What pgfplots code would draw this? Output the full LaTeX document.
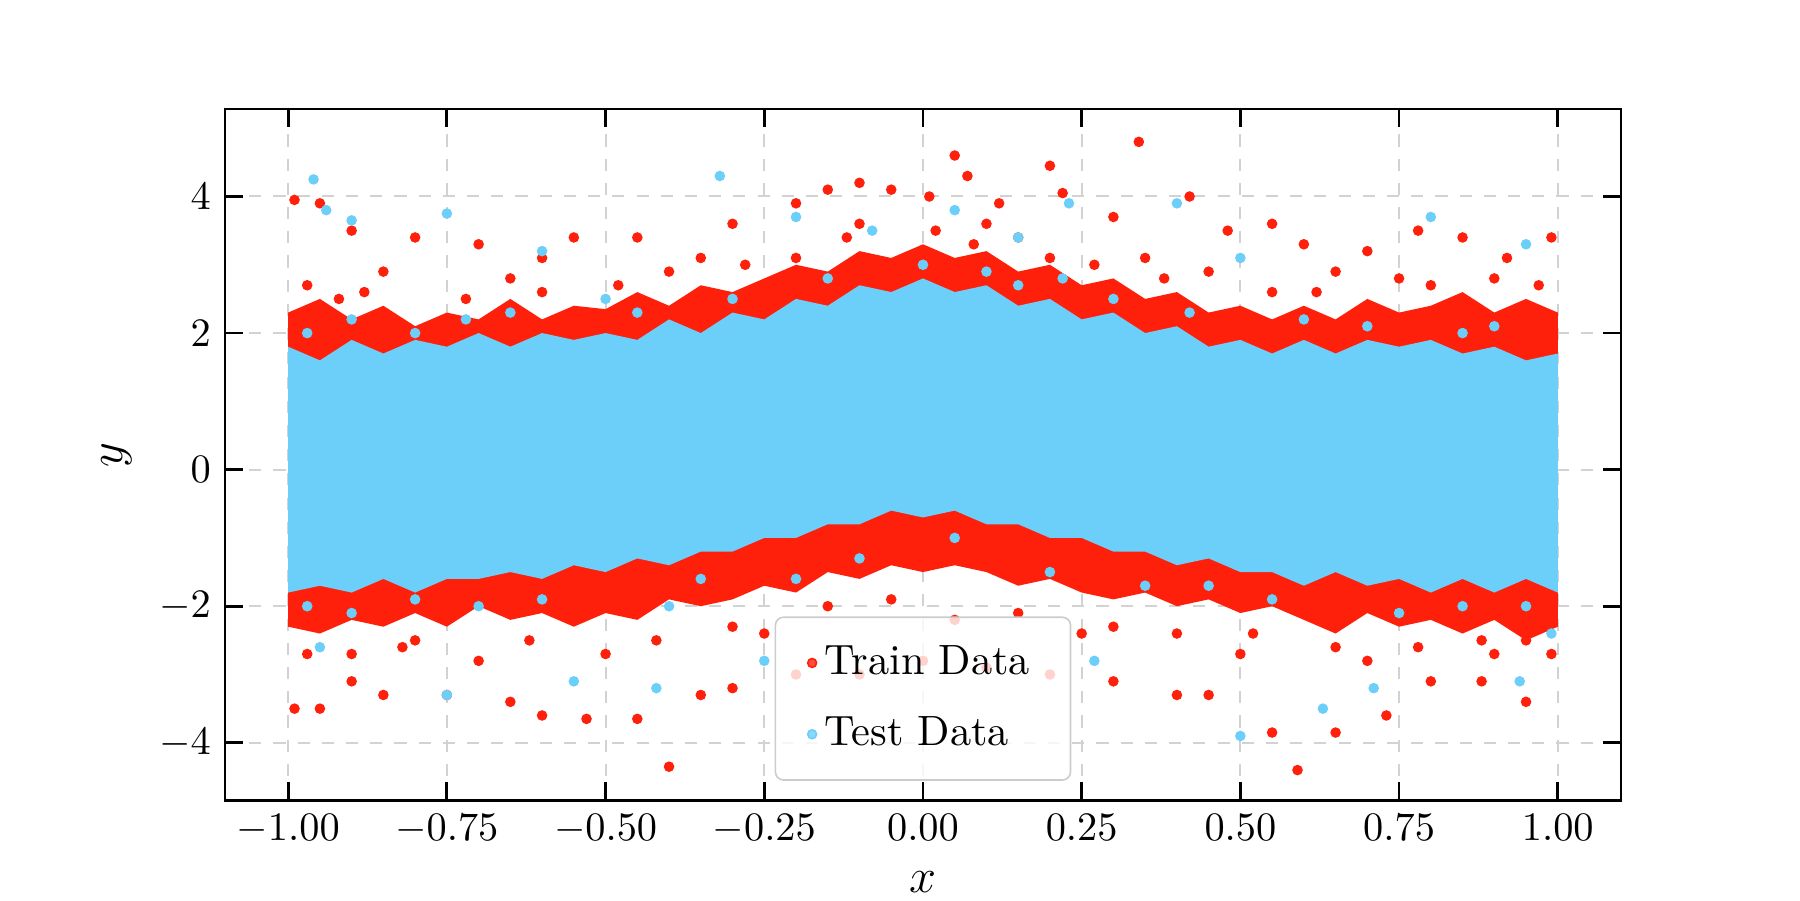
\documentclass[border=0pt]{standalone}
\usepackage{pgfplots}
\pgfplotsset{compat=1.18}
\definecolor{trainred}{RGB}{255,32,12}
\definecolor{testblue}{RGB}{108,207,250}
\begin{document}
\begin{tikzpicture}
\begin{axis}[
  at={(0,0)}, anchor=south west, scale only axis,
  width=12.16cm, height=6.02cm,
  xmin=-1.0995, xmax=1.0995, ymin=-4.84, ymax=5.28,
  xtick={-1,-0.75,...,1.01}, ytick={-4,-2,0,2,4},
  xticklabel style={/pgf/number format/.cd,fixed,fixed zerofill,precision=2},
  tick align=inside, xtick pos=both, ytick pos=both,
  major tick length=4.5pt,
  grid=major, grid style={dashed, gray!35, line width=0.5pt},
  axis line style={line width=0.7pt},
  tick style={line width=0.7pt, black},
  ticklabel style={font=\fontsize{9.6}{11}\selectfont},
  xlabel={$x$}, ylabel={$y$},
  label style={font=\fontsize{12}{14}\selectfont},
  xlabel style={yshift=0pt},
  legend style={at={(0.5,0.028)}, anchor=south, draw=gray!40, fill=white, fill opacity=0.8, text opacity=1, rounded corners=2pt, font=\fontsize{10.5}{12}\selectfont, row sep=5pt, inner xsep=8pt, inner ysep=5pt},
  legend cell align=left,
]
\addplot[fill=trainred, draw=none, forget plot] coordinates {
(-1,2.3)(-0.95,2.5)(-0.9,2.2)(-0.85,2.4)(-0.8,2.1)(-0.75,2.3)(-0.7,2.2)(-0.65,2.5)(-0.6,2.2)(-0.55,2.4)(-0.5,2.35)(-0.45,2.6)(-0.4,2.4)(-0.35,2.7)(-0.3,2.6)(-0.25,2.8)(-0.2,3.0)(-0.15,2.9)(-0.1,3.2)(-0.05,3.1)(0,3.3)(0.05,3.1)(0.1,3.2)(0.15,2.9)(0.2,3.0)(0.25,2.7)(0.3,2.8)(0.35,2.5)(0.4,2.6)(0.45,2.3)(0.5,2.4)(0.55,2.2)(0.6,2.4)(0.65,2.2)(0.7,2.5)(0.75,2.3)(0.8,2.4)(0.85,2.6)(0.9,2.3)(0.95,2.5)(1,2.3)
(1,-2.3)(0.95,-2.5)(0.9,-2.2)(0.85,-2.4)(0.8,-2.2)(0.75,-2.3)(0.7,-2.1)(0.65,-2.4)(0.6,-2.2)(0.55,-2.0)(0.5,-2.1)(0.45,-1.9)(0.4,-2.0)(0.35,-1.8)(0.3,-1.9)(0.25,-1.8)(0.2,-1.6)(0.15,-1.7)(0.1,-1.5)(0.05,-1.4)(0,-1.5)(-0.05,-1.4)(-0.1,-1.6)(-0.15,-1.5)(-0.2,-1.8)(-0.25,-1.7)(-0.3,-1.9)(-0.35,-2.0)(-0.4,-1.9)(-0.45,-2.2)(-0.5,-2.1)(-0.55,-2.3)(-0.6,-2.1)(-0.65,-2.2)(-0.7,-2.0)(-0.75,-2.3)(-0.8,-2.1)(-0.85,-2.3)(-0.9,-2.2)(-0.95,-2.4)(-1,-2.3)} -- cycle;
\addplot[only marks, mark=*, mark size=1.1pt, color=trainred] coordinates {
(-0.99,3.95)(-0.95,3.9)(-0.9,3.5)(-0.8,3.4)(-0.7,3.3)(-0.6,3.1)(-0.55,3.4)(-0.45,3.4)(-0.3,3.6)(-0.2,3.9)(-0.15,4.1)(-0.1,4.2)(-0.05,4.1)(0.01,4.0)(0.05,4.6)(0.07,4.3)(0.12,3.9)(0.2,4.45)(0.22,4.05)(0.3,3.7)(0.34,4.8)(0.42,4.0)(0.48,3.5)(0.55,3.6)(0.6,3.3)(0.7,3.2)(0.78,3.5)(0.85,3.4)(0.92,3.1)(0.99,3.4)
(-0.99,-3.5)(-0.95,-3.5)(-0.9,-3.1)(-0.85,-3.3)(-0.75,-3.3)(-0.65,-3.4)(-0.6,-3.6)(-0.53,-3.65)(-0.45,-3.65)(-0.4,-4.35)(-0.35,-3.3)(-0.3,-3.2)(-0.2,-3.0)(-0.1,-3.0)(0.0,-2.8)(0.1,-2.9)(0.2,-3.0)(0.3,-3.1)(0.4,-3.3)(0.45,-3.3)(0.55,-3.85)(0.59,-4.4)(0.65,-3.85)(0.73,-3.6)(0.8,-3.1)(0.88,-3.1)(0.95,-3.4)(0.99,-2.7)
(-0.97,2.7)(-0.85,2.9)(-0.65,2.8)(-0.4,2.9)(-0.35,3.1)(-0.1,3.6)(0.1,3.6)(0.15,3.4)(0.35,3.1)(0.45,2.9)(0.65,2.9)(0.9,2.8)(-0.9,-2.7)(-0.7,-2.8)(-0.5,-2.7)(-0.25,-2.4)(0.05,-2.2)(0.25,-2.4)(0.5,-2.7)(0.7,-2.8)(0.9,-2.7)
(-0.92,2.5)(-0.6,2.6)(-0.2,3.1)(0.02,3.5)(0.2,3.1)(0.55,2.6)(0.8,2.7)(-0.8,-2.5)(-0.3,-2.3)(-0.05,-1.9)(0.15,-2.1)(0.4,-2.4)(0.65,-2.6)(0.95,-2.5)
(-0.88,2.6)(-0.72,2.5)(-0.48,2.7)(-0.28,3.0)(-0.12,3.4)(0.08,3.3)(0.27,3.0)(0.38,2.8)(0.62,2.6)(0.75,2.8)(0.97,2.7)(-0.97,-2.7)(-0.82,-2.6)(-0.62,-2.5)(-0.42,-2.5)(-0.15,-2.0)(0.3,-2.3)(0.52,-2.4)(0.78,-2.6)(0.88,-2.5)};
\addlegendentry{Train Data}
\addplot[fill=testblue, draw=none, forget plot] coordinates {
(-1,1.8)(-0.95,1.6)(-0.9,1.9)(-0.85,1.7)(-0.8,1.9)(-0.75,1.8)(-0.7,2.0)(-0.65,1.8)(-0.6,2.0)(-0.55,1.9)(-0.5,2.0)(-0.45,1.9)(-0.4,2.2)(-0.35,2.0)(-0.3,2.3)(-0.25,2.2)(-0.2,2.5)(-0.15,2.4)(-0.1,2.7)(-0.05,2.6)(0,2.8)(0.05,2.6)(0.1,2.7)(0.15,2.4)(0.2,2.5)(0.25,2.2)(0.3,2.3)(0.35,2.0)(0.4,2.1)(0.45,1.8)(0.5,1.9)(0.55,1.7)(0.6,1.9)(0.65,1.7)(0.7,1.9)(0.75,1.8)(0.8,1.9)(0.85,1.7)(0.9,1.8)(0.95,1.6)(1,1.7)
(1,-1.8)(0.95,-1.6)(0.9,-1.8)(0.85,-1.6)(0.8,-1.8)(0.75,-1.6)(0.7,-1.7)(0.65,-1.5)(0.6,-1.7)(0.55,-1.5)(0.5,-1.5)(0.45,-1.3)(0.4,-1.4)(0.35,-1.2)(0.3,-1.2)(0.25,-1.0)(0.2,-1.0)(0.15,-0.8)(0.1,-0.8)(0.05,-0.6)(0,-0.7)(-0.05,-0.6)(-0.1,-0.8)(-0.15,-0.8)(-0.2,-1.0)(-0.25,-1.0)(-0.3,-1.2)(-0.35,-1.2)(-0.4,-1.4)(-0.45,-1.3)(-0.5,-1.5)(-0.55,-1.4)(-0.6,-1.6)(-0.65,-1.5)(-0.7,-1.6)(-0.75,-1.6)(-0.8,-1.8)(-0.85,-1.6)(-0.9,-1.8)(-0.95,-1.7)(-1,-1.8)} -- cycle;
\addplot[only marks, mark=*, mark size=1.1pt, color=testblue] coordinates {
(-0.96,4.25)(-0.94,3.8)(-0.9,3.65)(-0.75,3.75)(-0.6,3.2)(-0.32,4.3)(-0.2,3.7)(-0.08,3.5)(0.05,3.8)(0.15,3.4)(0.23,3.9)(0.4,3.9)(0.5,3.1)(0.8,3.7)(0.95,3.3)
(-0.95,-2.6)(-0.75,-3.3)(-0.55,-3.1)(-0.42,-3.2)(-0.25,-2.8)(0.27,-2.8)(0.5,-3.9)(0.63,-3.5)(0.71,-3.2)(0.94,-3.1)(0.99,-2.4)
(-0.8,2.0)(-0.5,2.5)(-0.3,2.5)(0.1,2.9)(0.3,2.5)(0.6,2.2)(0.85,2.0)(-0.8,-1.9)(-0.4,-2.0)(-0.1,-1.3)(0.2,-1.5)(0.55,-1.9)(0.85,-2.0)
(-0.9,2.2)(-0.65,2.3)(0.0,3.0)(0.15,2.7)(0.7,2.1)(-0.9,-2.1)(-0.6,-1.9)(-0.2,-1.6)(0.35,-1.7)(0.75,-2.1)
(-0.97,2.0)(-0.72,2.2)(-0.45,2.3)(-0.15,2.8)(0.22,2.8)(0.42,2.3)(0.9,2.1)(-0.97,-2.0)(-0.7,-2.0)(-0.35,-1.6)(0.05,-1.0)(0.45,-1.7)(0.95,-2.0)};
\addlegendentry{Test Data}
\end{axis}
\pgfresetboundingbox
\useasboundingbox (-1.96cm,-0.87cm) rectangle (13.72cm,6.97cm);
\end{tikzpicture}
\end{document}
